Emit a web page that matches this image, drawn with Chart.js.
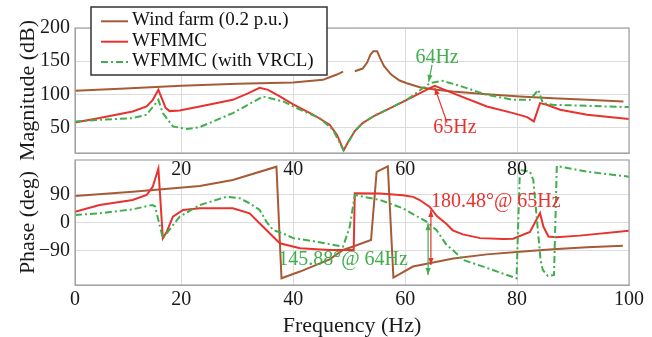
<!DOCTYPE html>
<html lang="en">
<head>
<meta charset="UTF-8">
<title>WFMMC impedance</title>
<script src="https://cdn.jsdelivr.net/npm/chart.js@4.4.1/dist/chart.umd.min.js"></script>
<style>
  html, body { margin: 0; padding: 0; background: #fff; }
  .wrap { position: absolute; left: 0; top: 0; width: 652px; height: 337px; }
</style>
</head>
<body>
<div class="wrap"><canvas id="phase"></canvas></div>
<div class="wrap"><canvas id="mag"></canvas></div>
<script>
const FONT = "'Liberation Serif', 'Times New Roman', serif";
const BROWN = '#a65b36', RED = '#e8322e', GREEN = '#3fae4c';

// magnitude (dB)
const windMagF = [1, 10, 20, 30, 40, 45.3, 46.5, 47.8, 48.9, 50, 51, 52.4, 53.2, 53.8, 54.3, 55, 55.5, 56.2, 57.5, 59, 60.3, 62.6, 65.6, 68.5, 74.6, 80.5, 86.4, 92.5, 99];
const windMag = [105.5, 109, 113, 116, 118, 122, 126, 130, 134.5, null, 135, 139, 148, 160, 165, 165, 155, 143, 130, 121, 117, 111, 107, 104.5, 100.5, 97, 94.5, 92, 89.5];
const redMagF = [1, 5.4, 11.3, 13.8, 14.9, 15.9, 17.2, 17.9, 19.7, 23.3, 29.2, 32, 34, 35.5, 37.6, 40, 43.6, 46.5, 47.8, 49, 49.8, 51, 52.4, 54.5, 56.7, 60.3, 64.4, 65.3, 68.5, 74.6, 79.3, 81.8, 83, 84.1, 85.3, 87.7, 92.5, 100];
const redMag = [58, 64.5, 74.5, 82, 92, 107, 80, 75, 76, 82, 92, 102, 110, 107, 97, 85, 69.5, 54.5, 39.5, 16, 28, 45, 57, 68, 77, 92, 109.5, 113, 102, 82, 72, 66, 59.5, 87, 84.5, 77, 69.5, 63];
const greenMagF = [1, 5.4, 11.3, 13.8, 15.9, 16.7, 18.5, 21, 23.3, 29.2, 34.6, 38.2, 40.5, 44.8, 47.1, 49, 49.8, 51, 52.4, 54.5, 56.7, 60.3, 64.4, 66.7, 69.8, 74.6, 79.3, 82.3, 83.8, 84.6, 86.4, 100];
const greenMag = [59.5, 62, 64.5, 69.5, 92, 72, 52, 48, 51, 72, 97, 89.5, 80, 64, 47, 16, 28, 45, 57, 68, 77, 92, 117, 120.5, 113, 99.5, 92, 92, 107, 87, 84.5, 81];

// phase (deg)
const windPhF = [1, 11.3, 19.7, 23.3, 29.2, 37, 37.9, 41.2, 46.5, 48.9, 50.7, 53.9, 54.9, 56.9, 57.9, 61.4, 64.1, 68.6, 74.6, 80.5, 86.4, 92.5, 98.9];
const windPh = [85, 98.5, 111, 117, 136, 178.6, -178.6, -157, -118, -88, -77, -56, 162, 180, -176, -141, -131, -115, -102, -93.4, -85.8, -79.4, -74.2];
const redPhF = [1, 5.4, 11.3, 13.8, 14.9, 15.9, 16.7, 17.4, 18.5, 20.3, 23.3, 29.2, 32.2, 35.2, 37.6, 41.2, 46.5, 50.8, 51, 55.5, 59.6, 61.4, 62.6, 64.4, 65.7, 67.4, 68.5, 70.3, 73.4, 77.5, 79.3, 82.3, 84.1, 84.7, 85.6, 87, 91.2, 100];
const redPh = [34.6, 56, 72, 88, 114.6, 173, -50.6, -29.4, 18.6, 40, 45.4, 45.4, 29.4, -24, -66.6, -82.6, -88, -88, 93.4, 93, 87, 82, 72, 50, 20, -5, -25, -38, -50, -53, -52, -30, 30, -13, -45, -47, -42, -26];
const greenPhF = [1, 5.4, 11.3, 14.8, 15.3, 16.7, 19.7, 23.3, 28.1, 30.5, 32.2, 34, 35.2, 36.4, 38.1, 40, 44.2, 48.9, 50.1, 51, 55.5, 59.6, 63.8, 65.6, 67.4, 68.5, 70.4, 73.4, 79.9, 80.5, 82.3, 82.9, 84.2, 84.6, 85.5, 86.6, 87.1, 92.5, 100];
const greenPh = [24, 29.4, 42.2, 56, 52, -50.6, 18.6, 56, 82.6, 77.4, 61.4, 40, 2.6, -24, -34.6, -50, -61.4, -77.4, -13.4, 88, 72, 45.4, 2.6, -24, -72, -88, -120, -138, -178.6, 168, 162.6, 136, -120, -152, -171, -168, 180.8, 162.6, 146.6];

const xTicks = [1, 20, 40, 60, 80, 100];
const magTicks = [50, 100, 150, 200];
const phaseTicks = [-90, 0, 90];

// annotations, in data units
const magNotes = [
  { text: '64Hz', f: 65.7, v: 156, color: GREEN },
  { text: '65Hz', f: 68.9, v: 50, color: RED },
];
const magArrows = [
  { f0: 64.8, v0: 144.5, f1: 64.2, v1: 119, color: GREEN },
  { f0: 67.5, v0: 57.5, f1: 65.3, v1: 110, color: RED },
];
const phaseNotes = [
  { text: '180.48°@ 65Hz', f: 64.6, v: 65, color: RED, align: 'left' },
  { text: '145.88°@ 64Hz', f: 37.3, v: -120, color: GREEN, align: 'left' },
];
const phaseArrows = [
  { f0: 64.6, v0: 40, f1: 64.6, v1: -136, color: RED, both: true },
  { f0: 64.1, v0: -2.7, f1: 64.1, v1: -168, color: GREEN, both: true },
];

const series = [
  { label: 'Wind farm (0.2 p.u.)', color: BROWN, dash: [], order: 2 },
  { label: 'WFMMC', color: RED, dash: [], order: 1 },
  { label: 'WFMMC (with VRCL)', color: GREEN, dash: [7, 3, 2, 3], order: 0 },
];

function pts(fs, vs) { return fs.map((f, i) => ({ x: f, y: vs[i] })); }

function makeDatasets(sets) {
  return series.map((s, i) => ({
    label: s.label, data: pts(sets[i][0], sets[i][1]), order: s.order,
    borderColor: s.color, borderDash: s.dash, borderWidth: 2,
    pointRadius: 0, fill: false, tension: 0, spanGaps: false,
  }));
}

function arrowHead(ctx, xa, ya, xb, yb) {
  const ang = Math.atan2(yb - ya, xb - xa), L = 7, W = 2.6;
  ctx.beginPath();
  ctx.moveTo(xb, yb);
  ctx.lineTo(xb - L * Math.cos(ang) + W * Math.sin(ang), yb - L * Math.sin(ang) - W * Math.cos(ang));
  ctx.lineTo(xb - L * Math.cos(ang) - W * Math.sin(ang), yb - L * Math.sin(ang) + W * Math.cos(ang));
  ctx.closePath();
  ctx.fill();
}

function drawLegend(chart) {
  const { ctx, chartArea: a } = chart;
  const bx = a.left + 16, by = 7, bw = 236, bh = 68;
  ctx.fillStyle = '#fff';
  ctx.fillRect(bx, by, bw, bh);
  ctx.strokeStyle = '#333';
  ctx.lineWidth = 1.5;
  ctx.strokeRect(bx, by, bw, bh);
  chart.data.datasets.forEach((ds, i) => {
    const yy = by + 14.3 + i * 20.4;
    ctx.strokeStyle = ds.borderColor;
    ctx.lineWidth = 2;
    ctx.setLineDash(ds.borderDash || []);
    ctx.beginPath(); ctx.moveTo(bx + 10, yy); ctx.lineTo(bx + 37, yy); ctx.stroke();
    ctx.setLineDash([]);
    ctx.fillStyle = '#111';
    ctx.font = '19px ' + FONT;
    ctx.textAlign = 'left';
    ctx.textBaseline = 'middle';
    ctx.fillText(ds.label, bx + 41, yy - 1);
  });
}

const decor = {
  id: 'decor',
  afterDraw(chart, args, opts) {
    const { ctx, chartArea: a, scales: { x, y } } = chart;
    ctx.save();
    ctx.strokeStyle = '#a3a3a3';
    ctx.lineWidth = 1.2;
    ctx.strokeRect(a.left, a.top, a.width, a.height);
    (opts.arrows || []).forEach(ar => {
      const x0 = x.getPixelForValue(ar.f0), y0 = y.getPixelForValue(ar.v0);
      const x1 = x.getPixelForValue(ar.f1), y1 = y.getPixelForValue(ar.v1);
      ctx.strokeStyle = ar.color; ctx.fillStyle = ar.color; ctx.lineWidth = 1.2;
      ctx.beginPath(); ctx.moveTo(x0, y0); ctx.lineTo(x1, y1); ctx.stroke();
      arrowHead(ctx, x0, y0, x1, y1);
      if (ar.both) arrowHead(ctx, x1, y1, x0, y0);
    });
    (opts.notes || []).forEach(n => {
      ctx.font = '20px ' + FONT;
      ctx.fillStyle = n.color;
      ctx.textAlign = n.align || 'center';
      ctx.textBaseline = 'middle';
      ctx.fillText(n.text, x.getPixelForValue(n.f), y.getPixelForValue(n.v));
    });
    if (opts.legend) drawLegend(chart);
    ctx.restore();
  }
};

function xScale(labelFn, pad, height) {
  return {
    type: 'linear', min: 1, max: 100,
    afterBuildTicks: s => { s.ticks = xTicks.map(v => ({ value: v })); },
    afterFit: s => { s.height = height; },
    grid: { color: '#dcdcdc', drawTicks: false },
    border: { color: '#a3a3a3' },
    ticks: { padding: pad, color: '#1a1a1a', font: { family: FONT, size: 20 }, maxRotation: 0, autoSkip: false, callback: labelFn },
  };
}

function yScale(min, max, ticks, title, labelFn) {
  return {
    min, max,
    afterBuildTicks: s => { s.ticks = ticks.map(v => ({ value: v })); },
    afterFit: s => { s.width = 75; },
    grid: { color: '#dcdcdc', drawTicks: false },
    border: { color: '#a3a3a3' },
    ticks: { padding: 5, color: '#1a1a1a', font: { family: FONT, size: 20 }, callback: labelFn },
    title: { display: true, text: title, color: '#1a1a1a', font: { family: FONT, size: 22, lineHeight: 1 }, padding: { top: 17, bottom: 0 } },
  };
}

const common = {
  responsive: true,
  maintainAspectRatio: false,
  animation: false,
  events: [],
};

new Chart(document.getElementById('mag'), {
  type: 'line',
  data: { datasets: makeDatasets([[windMagF, windMag], [redMagF, redMag], [greenMagF, greenMag]]) },
  options: {
    ...common,
    layout: { padding: { top: 28, right: 23, left: 0, bottom: 0 } },
    plugins: { legend: { display: false }, tooltip: { enabled: false }, decor: { notes: magNotes, arrows: magArrows, legend: true } },
    scales: {
      x: xScale(v => (v === 1 || v === 100) ? '' : String(v), 5, 184),
      y: yScale(12, 200, magTicks, 'Magnitude (dB)', v => String(v)),
    },
  },
  plugins: [decor],
});

new Chart(document.getElementById('phase'), {
  type: 'line',
  data: { datasets: makeDatasets([[windPhF, windPh], [redPhF, redPh], [greenPhF, greenPh]]) },
  options: {
    ...common,
    layout: { padding: { top: 160, right: 23, left: 0, bottom: 0 } },
    plugins: { legend: { display: false }, tooltip: { enabled: false }, decor: { notes: phaseNotes, arrows: phaseArrows } },
    scales: {
      x: {
        ...xScale(v => v === 1 ? '0' : String(v), 3, 52),
        title: { display: true, text: 'Frequency (Hz)', color: '#1a1a1a', font: { family: FONT, size: 22, lineHeight: 1 }, padding: { top: 0, bottom: 0 } },
      },
      y: yScale(-200, 200, phaseTicks, 'Phase (deg)', v => v < 0 ? '\u2212' + Math.abs(v) : String(v)),
    },
  },
  plugins: [decor],
});
</script>
</body>
</html>
